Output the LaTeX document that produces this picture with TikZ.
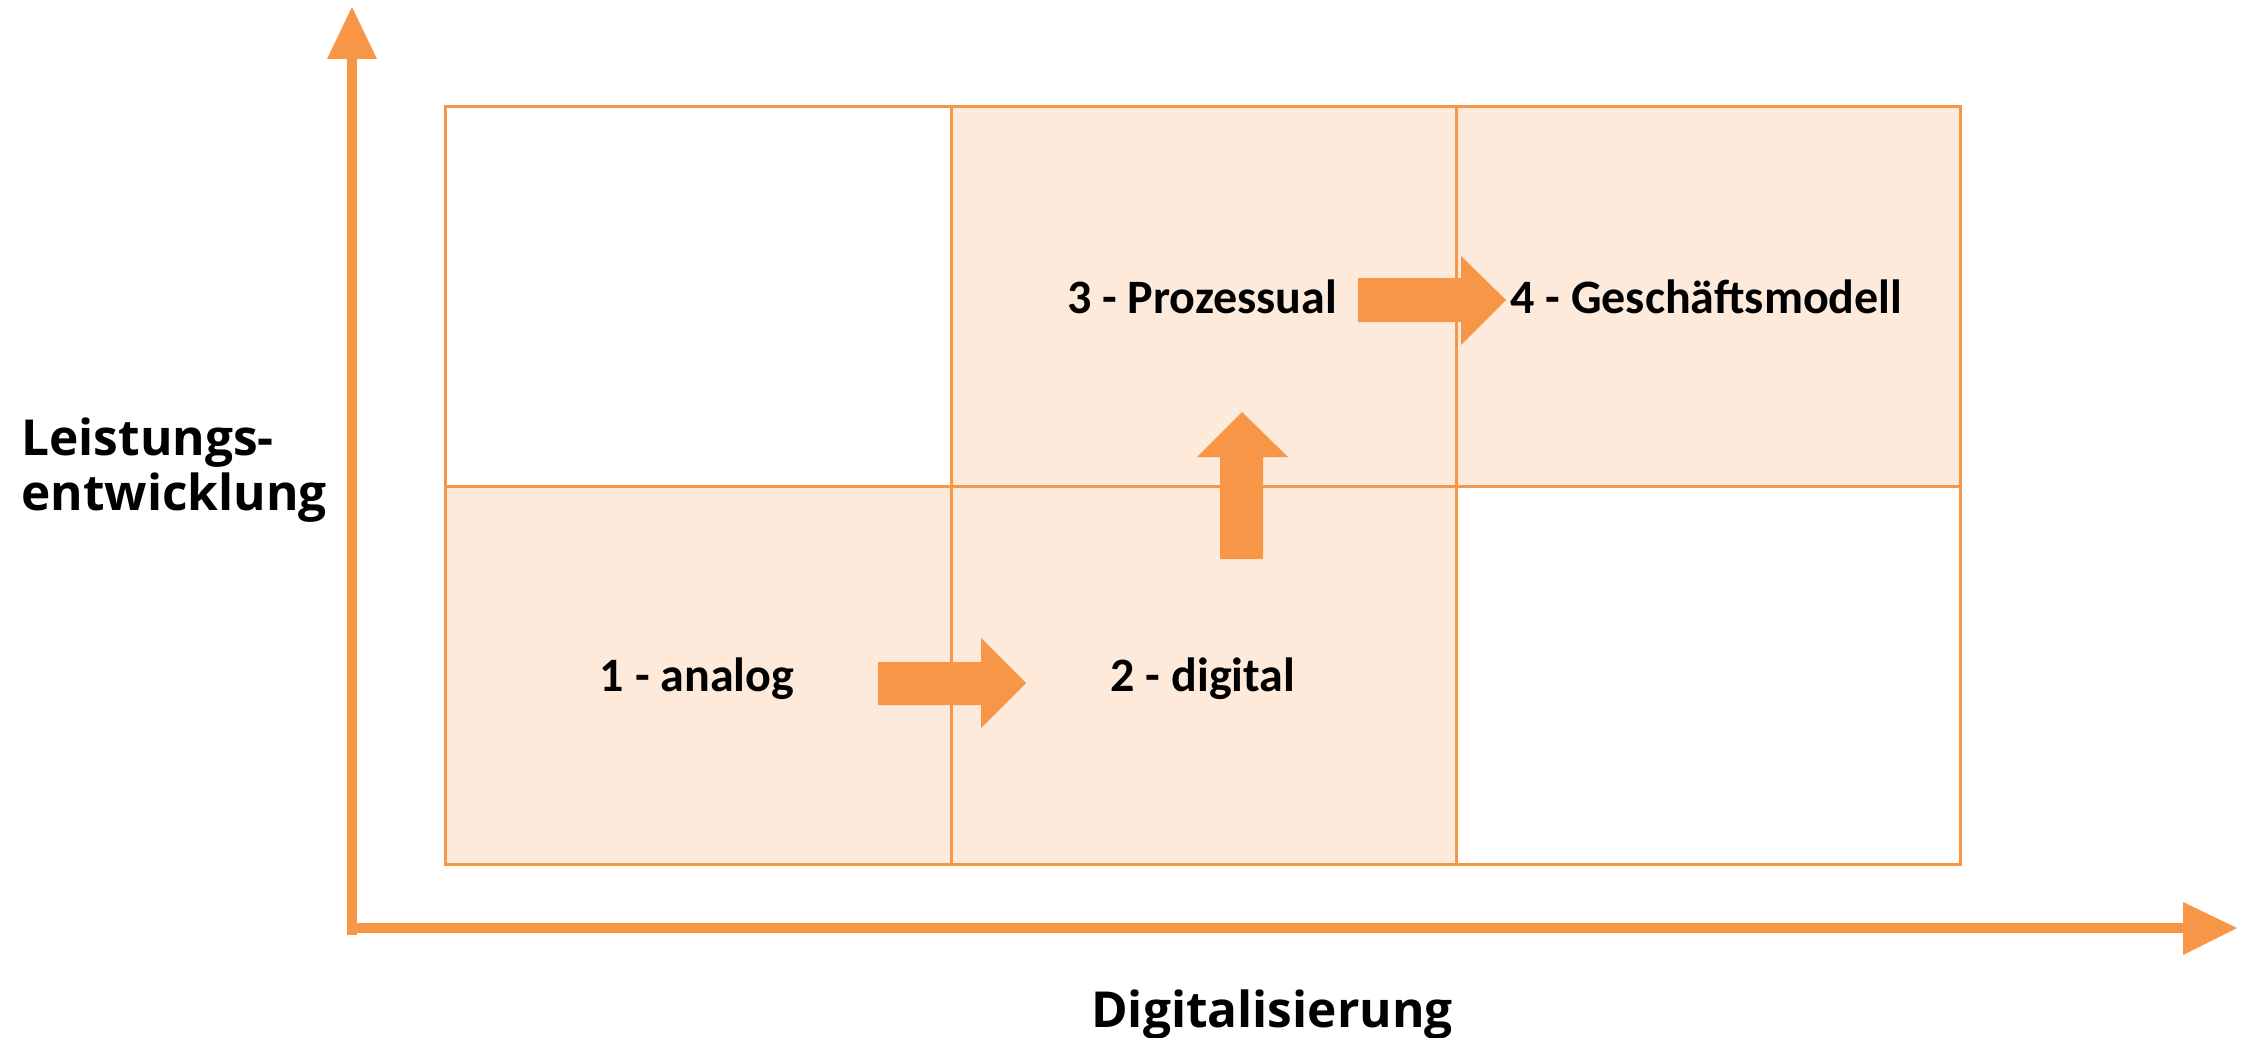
\documentclass[tikz,border=0pt]{standalone}
\usepackage{fontspec}
\newfontfamily\cellfont{Carlito}
\newfontfamily\axisfont{Open Sans}
\definecolor{orng}{HTML}{F79646}
\definecolor{lightorng}{HTML}{FDEADA}
\begin{document}
\begin{tikzpicture}[x=0.5pt,y=-0.5pt,
  gridline/.style={draw=orng,line width=1.5pt},
  cellfill/.style={fill=lightorng},
  axisline/.style={draw=orng,line width=5pt},
  blockarrow/.style={fill=orng},
  celllabel/.style={inner sep=0pt,font=\cellfont\bfseries\fontsize{24}{29}\selectfont,text=black},
  axislabel/.style={inner sep=0pt,font=\axisfont\bfseries\fontsize{24.8}{27.5}\selectfont,text=black}]
\useasboundingbox (0,0) rectangle (2249,1038);
% shaded cells
\fill[cellfill] (445,486) rectangle (1456,864);
\fill[cellfill] (951,107) rectangle (1960,486);
% grid
\draw[gridline] (445,107) rectangle (1960,864);
\draw[gridline] (445,486) -- (1960,486);
\draw[gridline] (951,107) -- (951,864);
\draw[gridline] (1456,107) -- (1456,864);
% axes
\draw[axisline] (352,935) -- (352,58);
\fill[orng] (327,59) -- (352,7) -- (377,59) -- cycle;
\draw[axisline] (347,928) -- (2184,928);
\fill[orng] (2183,902) -- (2237,928) -- (2183,955) -- cycle;
% labels
\node[celllabel,anchor=base] (n1) at (697,691) {1 - analog};
\node[celllabel,anchor=base] (n2) at (1203,691) {2 - digital};
\node[celllabel,anchor=base] (n3) at (1202,313) {3 - Prozessual};
\node[celllabel,anchor=base west] (n4) at (1510,313) {4 - Geschäftsmodell};
\node[axislabel,anchor=base west,align=left] (ylab) at (21,510) {Leistungs-\\entwicklung};
\node[axislabel,anchor=base] (xlab) at (1272,1027) {Digitalisierung};
% block arrows
\fill[blockarrow] (878,662) -- (981,662) -- (981,638) -- (1026,683) -- (981,728) -- (981,705) -- (878,705) -- cycle;
\fill[blockarrow] (1220,559) -- (1220,457) -- (1197,457) -- (1242,412) -- (1288,457) -- (1263,457) -- (1263,559) -- cycle;
\fill[blockarrow] (1358,278) -- (1461,278) -- (1461,256) -- (1506,300) -- (1461,345) -- (1461,322) -- (1358,322) -- cycle;
\end{tikzpicture}
\end{document}
